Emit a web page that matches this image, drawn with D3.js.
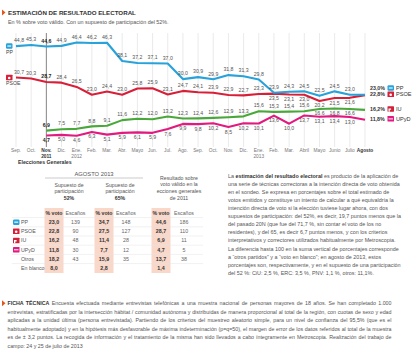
<!DOCTYPE html>
<html>
<head>
<meta charset="utf-8">
<script src="https://cdn.jsdelivr.net/npm/d3@7"></script>
<style>
    body { margin: 0; background: #fff; }
    svg { display: block; }
    text { font-family: "Liberation Sans", Arial, sans-serif; }
</style>
</head>
<body>
<div id="chart"></div>
<script>
// ---- data ----
const months = ["Sep.", "Oct.", "Nov.", "Dic.", "Ene.", "Feb.", "Mar.", "Abr.", "Mayo", "Jun.", "Jul.", "Ago.",
                "Sep.", "Oct.", "Nov.", "Dic.", "Ene.", "Feb.", "Mar.", "Abril", "Mayo", "Junio", "Julio", "Agosto"];
const monthYears = ["", "", "2011", "", "2012", "", "", "", "", "", "", "",
                    "", "", "", "", "2013", "", "", "", "", "", "", ""];

const ppValues   = [44.8, 45.3, 44.6, 44.9, 46.4, 46.2, 46.3, 38.1, 37.2, 37.1, 37.0, 30.0,
                    30.9, 29.9, 31.8, 31.3, 29.8, 23.9, 24.3, 24.5, 22.5, 24.5, 23.0, 23.0];
const psoeValues = [30.7, 30.3, 28.7, 28.4, 26.5, 23.0, 24.4, 23.0, 25.8, 25.9, 23.1, 24.7,
                    24.1, 23.9, 22.9, 22.7, 23.3, 23.5, 23.1, 23.0, 20.2, 21.5, 21.6, 22.8];
const iuValues   = [null, null, 6.9, 7.5, 7.7, 8.8, 9.1, 11.6, 12.2, 12.0, 13.2, 12.3,
                    12.4, 12.6, 12.9, 13.3, 15.6, 15.3, 15.4, 15.6, 16.6, 16.8, 16.6, 16.2];
const upydValues = [null, null, 4.7, 5.0, 4.6, 6.3, 5.1, 5.9, 6.1, 5.9, 7.6, 9.9,
                    9.8, 10.2, 8.5, 10.2, 10.1, 13.6, 10.0, 13.7, 13.1, 13.4, 13.0, 11.8];

const tableRows   = ["PP", "PSOE", "IU", "UPyD", "Otros", "En blanco"];
const vote52      = [23.0, 22.8, 16.2, 11.8, 18.2, 8.0];
const seats52     = [139, 90, 48, 30, 43, null];
const vote65      = [34.7, 27.5, 11.4, 7.7, 15.9, 2.8];
const seats65     = [148, 127, 28, 12, 35, null];
const vote2011    = [44.6, 28.7, 6.9, 4.7, 13.7, 1.4];
const seats2011   = [186, 110, 11, 5, 38, null];

const noteLines = [
    "La **estimación del resultado electoral** es producto de la aplicación de",
    "una serie de técnicas correctoras a la intención directa de voto obtenida",
    "en el sondeo. Se expresa en porcentajes sobre el total estimado de",
    "votos emitidos y constituye un intento de calcular a qué equivaldría la",
    "intención directa de voto si la elección tuviese lugar ahora, con dos",
    "supuestos de participación: del 52%, es decir, 19,7 puntos menos que la",
    "del pasado 20N (que fue del 71,7 %, sin contar el voto de los no",
    "residentes), y del 65, es decir 6,7 puntos menos,  y con los criterios",
    "interpretativos y correctores utilizados habitualmente por Metroscopia.",
    "La diferencia hasta 100 en la suma vertical de porcentajes corresponde",
    "a “otros partidos” y a “voto en blanco”; en agosto de 2013, estos",
    "porcentajes son, respectivamente, y en el supuesto de una participación",
    "del 52 %: CiU: 2,5 %, ERC: 3,5 %, PNV: 1,1 %, otros: 11,1%."
];

const fichaLines = [
    "**FICHA TÉCNICA** Encuesta efectuada mediante entrevistas telefónicas a una muestra nacional de personas mayores de 18 años. Se han completado 1.000",
    "entrevistas, estratificadas por la intersección hábitat / comunidad autónoma y distribuidas de manera proporcional al total de la región, con cuotas de sexo y edad",
    "aplicadas a la unidad última (persona entrevistada). Partiendo de los criterios del muestreo aleatorio simple, para un nivel de confianza del 95,5% (que es el",
    "habitualmente adoptado) y en la hipótesis más desfavorable de máxima indeterminación (p=q=50), el margen de error de los datos referidos al total de la muestra",
    "es de ± 3,2 puntos. La recogida de información y el tratamiento de la misma han sido llevados a cabo íntegramente en Metroscopia. Realización del trabajo de",
    "campo: 24 y 25 de julio de 2013"
];

// ---- setup ----
const W = 414, H = 351;
const es = d3.formatLocale({decimal: ",", thousands: ".", grouping: [3], currency: ["", "€"]});
const fmt = es.format(".1f");
const partyColor = {PP: "#27a2da", PSOE: "#d81f38", IU: "#4aa83b", UPyD: "#e2197f"};

const svg = d3.select("#chart").append("svg")
    .attr("width", W)
    .attr("height", H)
    .attr("viewBox", `0 0 ${W} ${H}`);

function bullet(g, bx, by){
    g.append("path")
        .attr("d", `M${bx},${by - 3}L${bx + 3.5},${by}L${bx},${by + 3}Z`)
        .attr("fill", "#e2561f");
}

function richText(sel, str){
    str.split("**").forEach((part, i) => {
        sel.append("tspan")
            .attr("font-weight", i % 2 ? "bold" : null)
            .attr("fill", i % 2 ? "#333" : null)
            .text(part);
    });
}

function icon(g, party, ix, iy){
    const c = party === "IU" ? "#d0213a" : partyColor[party];
    const ig = g.append("g").attr("transform", `translate(${ix},${iy})`);
    ig.append("rect").attr("width", 6.5).attr("height", 5.5).attr("rx", party === "PP" ? 1.2 : 0.4).attr("fill", c);
    if(party === "PP"){
        ig.append("rect").attr("x", 1.3).attr("y", 2.2).attr("width", 3.9).attr("height", 1.1).attr("fill", "#fff");
    } else if(party === "PSOE"){
        ig.append("circle").attr("cx", 3.2).attr("cy", 3.2).attr("r", 1.3).attr("fill", "#fff");
    } else if(party === "IU"){
        ig.append("path").attr("d", "M1,5.5V2.2H3.6V3.6H2.3V5.5Z").attr("fill", "#fff");
    } else {
        ig.append("rect").attr("x", 1).attr("y", 2.3).attr("width", 4.5).attr("height", 1).attr("fill", "#fff");
    }
}

// ---- header ----
const head = svg.append("g");
bullet(head, 2, 12.5);
head.append("text").attr("x", 8).attr("y", 14.6)
    .attr("font-size", 6.2).attr("font-weight", "bold").attr("fill", "#333")
    .text("ESTIMACIÓN DE RESULTADO ELECTORAL");
head.append("text").attr("x", 8).attr("y", 24)
    .attr("font-size", 5.4).attr("fill", "#555")
    .text("En % sobre voto válido. Con un supuesto de participación del 52%.");

// ---- line chart ----
const x = d3.scalePoint().domain(d3.range(months.length)).range([16, 365]);
const y = d3.scaleLinear().domain([0, 50]).range([146, 34.5]);
const electionIdx = 2;

const chart = svg.append("g");

chart.append("g").selectAll("line")
    .data(d3.range(months.length))
    .enter()
    .append("line")
        .attr("x1", d => x(d))
        .attr("x2", d => x(d))
        .attr("y1", 33)
        .attr("y2", 147)
        .attr("stroke", d => d === electionIdx ? "#777" : "#dcdcdc")
        .attr("stroke-width", d => d === electionIdx ? 0.9 : 0.6);

const axis = chart.append("g");
axis.selectAll(".month")
    .data(months)
    .enter()
    .append("text")
        .attr("x", (d, i) => x(i))
        .attr("y", 151.5)
        .attr("text-anchor", "middle")
        .attr("font-size", 4.8)
        .attr("font-weight", (d, i) => (i === electionIdx || i === months.length - 1) ? "bold" : null)
        .attr("fill", (d, i) => (i === electionIdx || i === months.length - 1) ? "#333" : "#777")
        .text(d => d);
axis.selectAll(".year")
    .data(monthYears)
    .enter()
    .append("text")
        .attr("x", (d, i) => x(i))
        .attr("y", 157.5)
        .attr("text-anchor", "middle")
        .attr("font-size", 4.8)
        .attr("font-weight", (d, i) => i === electionIdx ? "bold" : null)
        .attr("fill", (d, i) => i === electionIdx ? "#333" : "#777")
        .text(d => d);
axis.append("text").attr("x", 18).attr("y", 164)
    .attr("font-size", 5.2).attr("font-weight", "bold").attr("fill", "#333")
    .text("Elecciones Generales");

const series = [
    {name: "UPyD", values: upydValues, below: i => true},
    {name: "IU",   values: iuValues,   below: i => i >= 20},
    {name: "PSOE", values: psoeValues, below: i => i >= 17},
    {name: "PP",   values: ppValues,   below: i => false}
];

const line = d3.line()
    .defined(d => d != null)
    .x((d, i) => x(i))
    .y(d => y(d));

chart.append("g").selectAll("path")
    .data(series)
    .enter()
    .append("path")
        .attr("d", d => line(d.values))
        .attr("fill", "none")
        .attr("stroke", d => partyColor[d.name])
        .attr("stroke-width", 2.1)
        .attr("stroke-linejoin", "round");

const last = months.length - 1;
series.forEach(s => {
    const pts = s.values.map((v, i) => ({v, i})).filter(p => p.v != null && p.i < last);
    chart.append("g").selectAll("text")
        .data(pts)
        .enter()
        .append("text")
            .attr("x", p => x(p.i) + (p.i === 0 ? 3 : 0))
            .attr("y", p => y(p.v) + (s.below(p.i) ? 6.5 : -3.8))
            .attr("text-anchor", "middle")
            .attr("font-size", 5.2)
            .attr("font-weight", p => p.i === electionIdx ? "bold" : null)
            .attr("fill", p => p.i === electionIdx ? "#222" : "#555")
            .text(p => fmt(p.v));
});

// left party tags
const leftTags = chart.append("g");
icon(leftTags, "PP", 6, y(ppValues[0]) - 2.8);
leftTags.append("text").attr("x", 6).attr("y", y(ppValues[0]) + 7.5)
    .attr("font-size", 5.2).attr("fill", "#444").text("PP");
icon(leftTags, "PSOE", 6, y(psoeValues[0]) - 2.8);
leftTags.append("text").attr("x", 6).attr("y", y(psoeValues[0]) + 7.5)
    .attr("font-size", 5.2).attr("fill", "#444").text("PSOE");

// end labels, nudged apart when they collide
const ends = series.map(s => ({name: s.name, v: s.values[last], ly: y(s.values[last]) - 1}))
    .sort((a, b) => b.ly - a.ly);
for(let k = 1; k < ends.length; k++){
    ends[k].ly = Math.min(ends[k].ly, ends[k - 1].ly - 6.3);
}
const endG = chart.append("g");
ends.forEach(e => {
    const ex = x(last) + 5;
    endG.append("text").attr("x", ex).attr("y", e.ly + 1.9)
        .attr("font-size", 5.3).attr("font-weight", "bold").attr("fill", "#333")
        .text(fmt(e.v) + "%");
    icon(endG, e.name, ex + 17.5, e.ly - 2.6);
    endG.append("text").attr("x", ex + 26).attr("y", e.ly + 2)
        .attr("font-size", 5.6).attr("fill", "#333")
        .text(e.name);
});

// ---- table ----
const tbl = svg.append("g");
const cols = [
    {x: 54,  vals: vote52,    vote: true},
    {x: 75.5,  vals: seats52,   vote: false},
    {x: 104, vals: vote65,    vote: true},
    {x: 126, vals: seats65,   vote: false},
    {x: 161, vals: vote2011,  vote: true},
    {x: 184, vals: seats2011, vote: false}
];
const headY = 214.8;
const rowY = d3.scalePoint().domain(d3.range(tableRows.length)).range([224, 270]);

cols.filter(c => c.vote).forEach(c => {
    tbl.append("rect").attr("x", c.x - 9.5).attr("y", 208).attr("width", 19).attr("height", 65)
        .attr("fill", "#f9d8ca");
});

tbl.append("text").attr("x", 94).attr("y", 175.5).attr("text-anchor", "middle")
    .attr("font-size", 5.8).attr("fill", "#555").text("AGOSTO 2013");
tbl.append("line").attr("x1", 45).attr("x2", 143).attr("y1", 178).attr("y2", 178)
    .attr("stroke", "#aaa").attr("stroke-width", 0.6);

const groupHeads = [
    {x: 69,  lines: ["Supuesto de", "participación", "**52%**"], y0: 186.5},
    {x: 120, lines: ["Supuesto de", "participación", "**65%**"], y0: 186.5},
    {x: 179, lines: ["Resultado sobre", "voto válido en la", "ecciones generales", "de 2011"], y0: 179.5}
];
groupHeads.forEach(gh => {
    gh.lines.forEach((l, k) => {
        const t = tbl.append("text").attr("x", gh.x).attr("y", gh.y0 + k * 6.8)
            .attr("text-anchor", "middle").attr("font-size", 5.2).attr("fill", "#555");
        richText(t, l);
    });
});

cols.forEach(c => {
    tbl.append("text").attr("x", c.x).attr("y", headY).attr("text-anchor", "middle")
        .attr("font-size", 5.2)
        .attr("font-weight", c.vote ? "bold" : null)
        .attr("fill", c.vote ? "#333" : "#666")
        .text(c.vote ? "% voto" : "Escaños");
});

[headY + 2.8].concat(tableRows.slice(0, -1).map((d, i) => rowY(i) + 2.8)).forEach(ly => {
    tbl.append("line").attr("x1", 12).attr("x2", 203).attr("y1", ly).attr("y2", ly)
        .attr("stroke", "#e2e2e2").attr("stroke-width", 0.5);
});

tableRows.forEach((name, i) => {
    if(partyColor[name]) icon(tbl, name, 13, rowY(i) - 4.6);
    tbl.append("text").attr("x", 21).attr("y", rowY(i))
        .attr("font-size", 5.3).attr("fill", "#555").text(name);
    cols.forEach(c => {
        const v = c.vals[i];
        if(v == null) return;
        tbl.append("text").attr("x", c.x).attr("y", rowY(i)).attr("text-anchor", "middle")
            .attr("font-size", 5.3)
            .attr("font-weight", c.vote ? "bold" : null)
            .attr("fill", c.vote ? "#333" : "#666")
            .text(c.vote ? fmt(v) : v);
    });
});

// ---- note paragraph ----
const note = svg.append("g");
noteLines.forEach((l, k) => {
    const t = note.append("text").attr("x", 228).attr("y", 177.6 + k * 8.1)
        .attr("font-size", 5.4).attr("fill", "#555");
    richText(t, l);
});

// ---- ficha tecnica (justified block) ----
const ficha = svg.append("g");
const fichaLeft = 7.5, fichaWidth = 384;
bullet(ficha, 2, 303.2);
fichaLines.forEach((l, k) => {
    const t = ficha.append("text").attr("x", fichaLeft).attr("y", 305 + k * 8.6)
        .attr("font-size", 5.3).attr("fill", "#555");
    richText(t, l);
    if(k < fichaLines.length - 1){
        const natural = t.node().getComputedTextLength();
        const gaps = (l.match(/ /g) || []).length;
        if(gaps && natural < fichaWidth){
            t.attr("word-spacing", (fichaWidth - natural) / gaps);
        }
    }
});
</script>
</body>
</html>
